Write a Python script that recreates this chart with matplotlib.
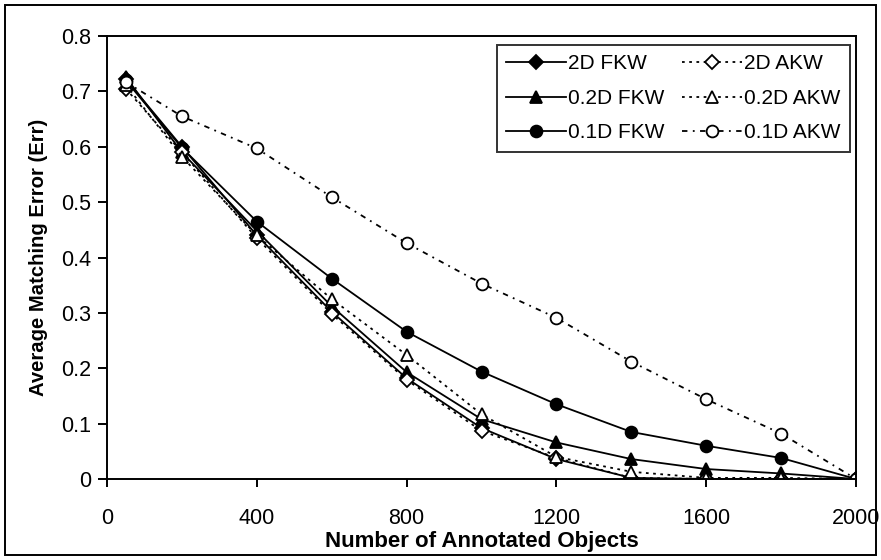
import matplotlib
matplotlib.use('Agg')
import matplotlib.pyplot as plt
from matplotlib.patches import Rectangle

plt.rcParams['font.family'] = ['Liberation Sans', 'DejaVu Sans']

# number of annotated objects
objects = [50, 200, 400, 600, 800, 1000, 1200, 1400, 1600, 1800, 2000]

# average matching error per setting
fkw_2d = [0.722, 0.600, 0.440, 0.302, 0.182, 0.092, 0.036, 0.002, 0.0, 0.0, 0.0]
fkw_02d = [0.726, 0.590, 0.448, 0.312, 0.193, 0.108, 0.066, 0.036, 0.018, 0.010, 0.0]
fkw_01d = [0.720, 0.598, 0.465, 0.362, 0.266, 0.194, 0.135, 0.085, 0.060, 0.038, 0.0]
akw_2d = [0.705, 0.590, 0.435, 0.298, 0.179, 0.087, 0.038, 0.002, 0.0, 0.0, 0.0]
akw_02d = [0.712, 0.582, 0.440, 0.325, 0.224, 0.117, 0.040, 0.013, 0.002, 0.002, 0.0]
akw_01d = [0.717, 0.655, 0.597, 0.509, 0.426, 0.353, 0.291, 0.212, 0.144, 0.082, 0.0]

series = [
    ('2D FKW', fkw_2d, '-', 'D', 'black'),
    ('0.2D FKW', fkw_02d, '-', '^', 'black'),
    ('0.1D FKW', fkw_01d, '-', 'o', 'black'),
    ('2D AKW', akw_2d, (0, (1.5, 2.5)), 'D', 'white'),
    ('0.2D AKW', akw_02d, (0, (1.5, 2.5)), '^', 'white'),
    ('0.1D AKW', akw_01d, (0, (3, 3, 1, 3)), 'o', 'white'),
]

fig = plt.figure(figsize=(8.81, 5.6), dpi=100)
ax = fig.add_axes([107 / 881, 81 / 560, 749 / 881, 443 / 560])

for label, vals, ls, mk, fc in series:
    ms = 7 if mk == 'D' else 8.5
    ax.plot(objects, vals, linestyle=ls, color='black', linewidth=1.3,
            marker=mk, markersize=ms, markerfacecolor=fc,
            markeredgecolor='black', markeredgewidth=1.3, label=label)

ax.set_xlim(0, 2000)
ax.set_ylim(0, 0.8)
ax.set_xticks([0, 400, 800, 1200, 1600, 2000])
ax.set_yticks([0, 0.1, 0.2, 0.3, 0.4, 0.5, 0.6, 0.7, 0.8])
ax.set_yticklabels(['0', '0.1', '0.2', '0.3', '0.4', '0.5', '0.6', '0.7', '0.8'])
ax.tick_params(direction='out', width=1.4, labelsize=15.5)
ax.tick_params(axis='y', length=6.5, pad=5)
ax.tick_params(axis='x', length=6, pad=15)
for s in ax.spines.values():
    s.set_linewidth(1.4)

ax.set_xlabel('Number of Annotated Objects', fontsize=16, fontweight='bold', labelpad=1.5)
ax.set_ylabel('Average Matching Error (Err)', fontsize=14.6, fontweight='bold', labelpad=9)

leg = ax.legend(ncol=2, loc='upper right', bbox_to_anchor=(0.992, 0.98),
                borderaxespad=0, fontsize=15, fancybox=False, edgecolor='black',
                handlelength=2.9, columnspacing=0.8, labelspacing=0.75,
                handletextpad=0.1, borderpad=0.45)
leg.get_frame().set_linewidth(1.4)

fig.patches.append(Rectangle((5 / 881, 5 / 560), 871 / 881, 550 / 560,
                             transform=fig.transFigure, fill=False,
                             edgecolor='black', linewidth=1.4))

fig.savefig('out.png', dpi=100)
